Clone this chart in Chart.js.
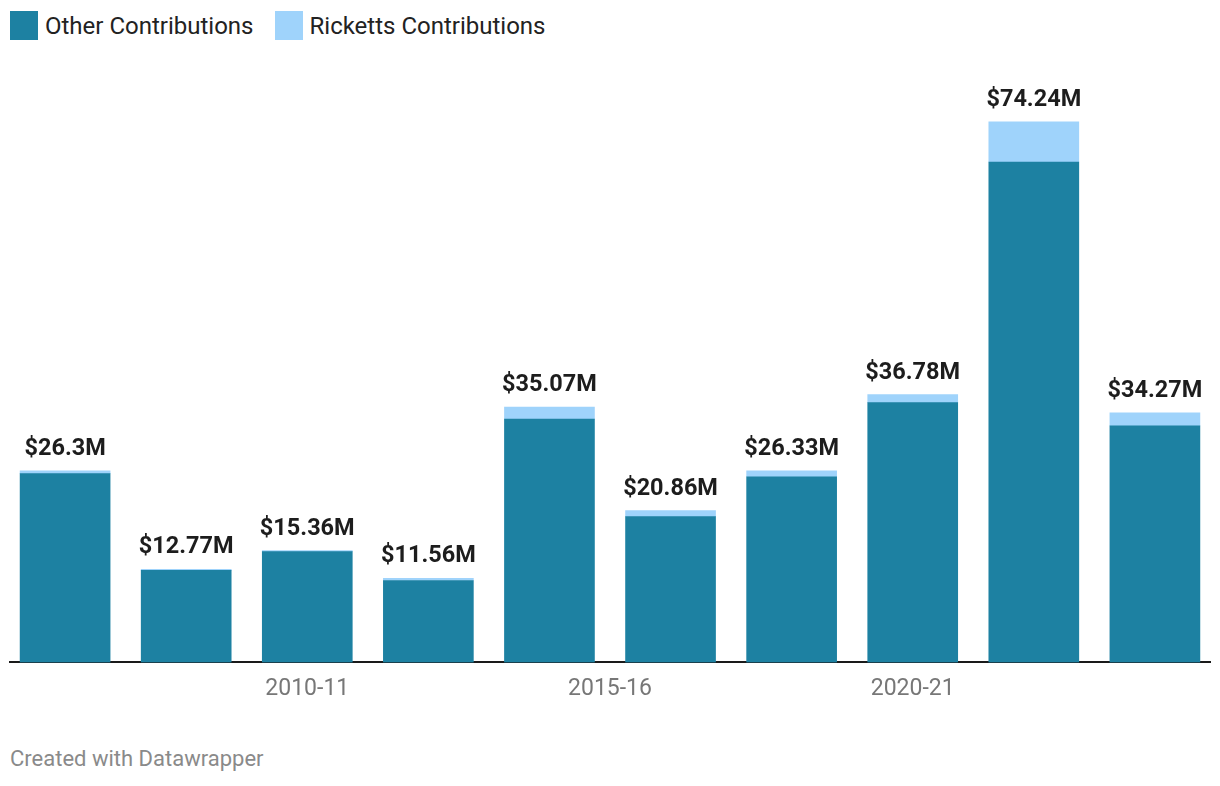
<!DOCTYPE html>
<html>
<head>
<meta charset="utf-8">
<script src="https://cdn.jsdelivr.net/npm/chart.js@4/dist/chart.umd.min.js"></script>
<style>
  html, body { margin: 0; padding: 0; background: #fff; }
  body { width: 1220px; height: 786px; position: relative; font-family: Roboto, "Noto Sans", sans-serif; overflow: hidden; }
  .legend { position: absolute; left: 10px; top: 11px; display: flex; align-items: center; font-size: 24px; color: #222; }
  .legend span.item { display: flex; align-items: center; margin-right: 21px; }
  .legend i { display: inline-block; width: 28px; height: 29px; margin-right: 7px; }
  #wrap { position: absolute; left: 0; top: 0; width: 1220px; height: 730px; }
  .footer { position: absolute; left: 10px; top: 746px; font-size: 22px; color: #8a8a8a; }
</style>
</head>
<body>
<div class="legend">
  <span class="item"><i style="background:#1d81a2"></i>Other Contributions</span>
  <span class="item"><i style="background:#9fd3fb"></i>Ricketts Contributions</span>
</div>
<div id="wrap"><canvas id="chart"></canvas></div>
<div class="footer">Created with Datawrapper</div>
<script>
// election cycles (first year of each two-year cycle)
const cycles = [2006, 2008, 2010, 2012, 2014, 2016, 2018, 2020, 2022, 2024];
const tickYears = [2010, 2015, 2020];
// $M
const otherContrib = [25.93, 12.63, 15.22, 11.25, 33.42, 20.03, 25.50, 35.68, 68.74, 32.48];
const rickettsContrib = [0.37, 0.14, 0.14, 0.31, 1.65, 0.83, 0.83, 1.10, 5.50, 1.79];
const totals = [26.3, 12.77, 15.36, 11.56, 35.07, 20.86, 26.33, 36.78, 74.24, 34.27];

const totalLabels = {
  id: 'totalLabels',
  afterDatasetsDraw(chart) {
    const ctx = chart.ctx;
    const meta = chart.getDatasetMeta(1);
    ctx.save();
    ctx.font = 'bold 23.5px Roboto, sans-serif';
    ctx.fillStyle = '#1d1d1d';
    ctx.textAlign = 'center';
    ctx.textBaseline = 'alphabetic';
    meta.data.forEach((bar, i) => {
      ctx.fillText('$' + totals[i] + 'M', bar.x, bar.y - 16);
    });
    ctx.restore();
  }
};

new Chart(document.getElementById('chart'), {
  type: 'bar',
  data: {
    datasets: [
      {
        label: 'Other Contributions',
        data: cycles.map((c, i) => ({ x: c, y: otherContrib[i] })),
        backgroundColor: '#1d81a2',
        barThickness: 90
      },
      {
        label: 'Ricketts Contributions',
        data: cycles.map((c, i) => ({ x: c, y: rickettsContrib[i] })),
        backgroundColor: '#9fd3fb',
        barThickness: 90
      }
    ]
  },
  options: {
    responsive: true,
    maintainAspectRatio: false,
    animation: false,
    layout: { padding: { left: 10, right: 10, top: 80, bottom: 14 } },
    plugins: { legend: { display: false }, tooltip: { enabled: false } },
    scales: {
      x: {
        type: 'linear',
        stacked: true,
        offset: false,
        bounds: 'data',
        min: 2005.09,
        max: 2024.91,
        afterBuildTicks: axis => { axis.ticks = tickYears.map(v => ({ value: v })); },
        grid: { display: false, drawTicks: false },
        border: { display: true, color: '#1a1a1a', width: 2 },
        ticks: {
          padding: 13,
          autoSkip: false,
          maxRotation: 0,
          color: '#777',
          font: { family: 'Roboto', size: 23 },
          callback: v => v + '-' + String(v + 1).slice(2)
        }
      },
      y: {
        stacked: true,
        display: false,
        min: 0,
        max: 80
      }
    }
  },
  plugins: [totalLabels]
});
</script>
</body>
</html>
